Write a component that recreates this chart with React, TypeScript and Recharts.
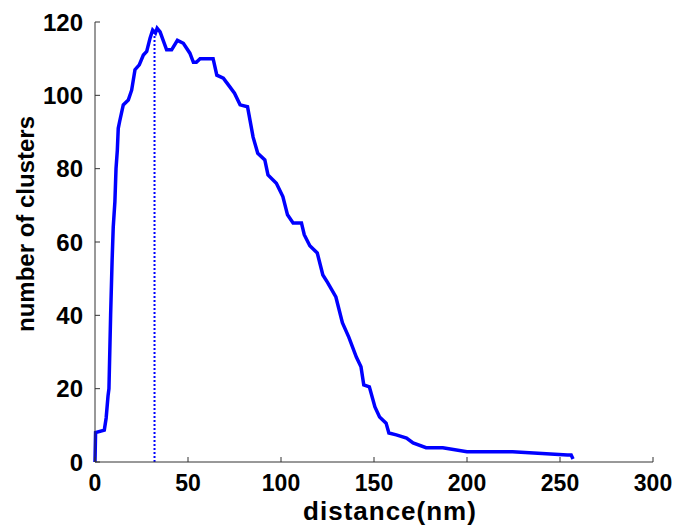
import { LineChart, Line, XAxis, YAxis, ReferenceLine, Label } from 'recharts';

// distance (nm) and number of clusters
const distance = [
  0, 0.3, 5, 6, 7, 7.5, 8.4, 9.2, 9.8, 10.7, 11.3, 12, 12.5, 13.3, 15.2, 17.9, 19.7, 21.5, 23.8,
  26, 27.8, 29.6, 31, 32.5, 33.4, 35, 38.5, 41.2, 44.3, 47.5, 51, 52.9, 54.5, 56.5, 63.5, 65.5,
  69, 71.5, 75, 78, 82, 85, 87.5, 91.3, 93, 97.5, 101, 103.5, 106.5, 111, 112.5, 115.5, 119.5,
  122.5, 125, 129.5, 133, 136.5, 140.5, 143, 144.5, 147.5, 150.5, 153, 156.5, 158, 162, 167.5,
  171, 178, 187, 200, 224.5, 254, 256, 257,
];
const clusters = [
  0, 8, 8.7, 12, 18, 20, 40, 55, 64, 71, 80, 85, 91, 93, 97.4, 98.7, 101.4, 107, 108.3, 111, 112,
  115.6, 117.8, 117, 118.3, 117.3, 112.4, 112.4, 115, 114.2, 111.5, 109, 109, 110, 110, 105.5,
  104.7, 103, 100.6, 97.4, 96.9, 88.6, 84.2, 82.4, 78.3, 76, 72.4, 67.4, 65.2, 65.2, 62, 59, 57,
  51, 49, 45, 38, 34, 28.6, 26, 21, 20.5, 15, 12.3, 10.6, 7.9, 7.4, 6.5, 5.2, 3.9, 3.9, 2.8, 2.8,
  1.9, 1.9, 0.8,
];
const xTicks = [0, 50, 100, 150, 200, 250, 300];
const yTicks = [0, 20, 40, 60, 80, 100, 120];
const peakDistance = 32;
const peakCount = 117;

const data = distance.map((d, i) => ({ distance: d, clusters: clusters[i] }));

const FONT = '"Liberation Sans", Arial, sans-serif';
const AXIS = '#333';
const BLUE = '#0000ff';
const TICK_LEN = 5;
const X_GAP = 13;
const Y_GAP = 12;

const XTick = (props: any) => {
  const { x, y, payload } = props;
  return (
    <g>
      <line x1={x} x2={x} y1={y - X_GAP} y2={y - X_GAP - TICK_LEN} stroke={AXIS} strokeWidth={1} />
      <text x={x} y={y} dy="0.71em" textAnchor="middle" fontSize={23} fontWeight="bold" fontFamily={FONT} fill="#000">
        {payload.value}
      </text>
    </g>
  );
};

const YTick = (props: any) => {
  const { x, y, payload } = props;
  return (
    <g>
      <line x1={x + Y_GAP} x2={x + Y_GAP + TICK_LEN} y1={y} y2={y} stroke={AXIS} strokeWidth={1} />
      <text x={x} y={y} dy="0.36em" textAnchor="end" fontSize={24} fontWeight="bold" fontFamily={FONT} fill="#000">
        {payload.value}
      </text>
    </g>
  );
};

export default function App() {
  return (
    <div style={{ position: 'absolute', left: 0, top: 0, width: 694, height: 529, background: '#fff', fontFamily: FONT }}>
      <LineChart width={694} height={529} data={data} margin={{ top: 22, right: 41, bottom: 0, left: 0 }}>
        <XAxis
          dataKey="distance"
          type="number"
          domain={[0, 300]}
          ticks={xTicks}
          interval={0}
          height={67}
          tickSize={0}
          tickMargin={X_GAP}
          tickLine={false}
          tick={<XTick />}
          axisLine={{ stroke: AXIS, strokeWidth: 1 }}
        >
          <Label
            content={() => (
              <text
                x={390}
                y={520}
                textAnchor="middle"
                fontSize={26}
                fontWeight="bold"
                letterSpacing={1}
                fontFamily={FONT}
                fill="#000"
              >
                distance(nm)
              </text>
            )}
          />
        </XAxis>
        <YAxis
          type="number"
          domain={[0, 120]}
          ticks={yTicks}
          interval={0}
          width={95}
          tickSize={0}
          tickMargin={Y_GAP}
          tickLine={false}
          tick={<YTick />}
          axisLine={{ stroke: AXIS, strokeWidth: 1 }}
        >
          <Label
            content={() => (
              <text
                x={25}
                y={224}
                transform="rotate(-90 25 224)"
                textAnchor="middle"
                dominantBaseline="central"
                fontSize={24}
                fontWeight="bold"
                fontFamily={FONT}
                fill="#000"
              >
                number of clusters
              </text>
            )}
          />
        </YAxis>
        <ReferenceLine
          segment={[
            { x: peakDistance, y: 0 },
            { x: peakDistance, y: peakCount },
          ]}
          stroke={BLUE}
          strokeWidth={2}
          strokeDasharray="2 2"
        />
        <Line
          dataKey="clusters"
          type="linear"
          stroke={BLUE}
          strokeWidth={3.5}
          dot={false}
          isAnimationActive={false}
        />
      </LineChart>
    </div>
  );
}
